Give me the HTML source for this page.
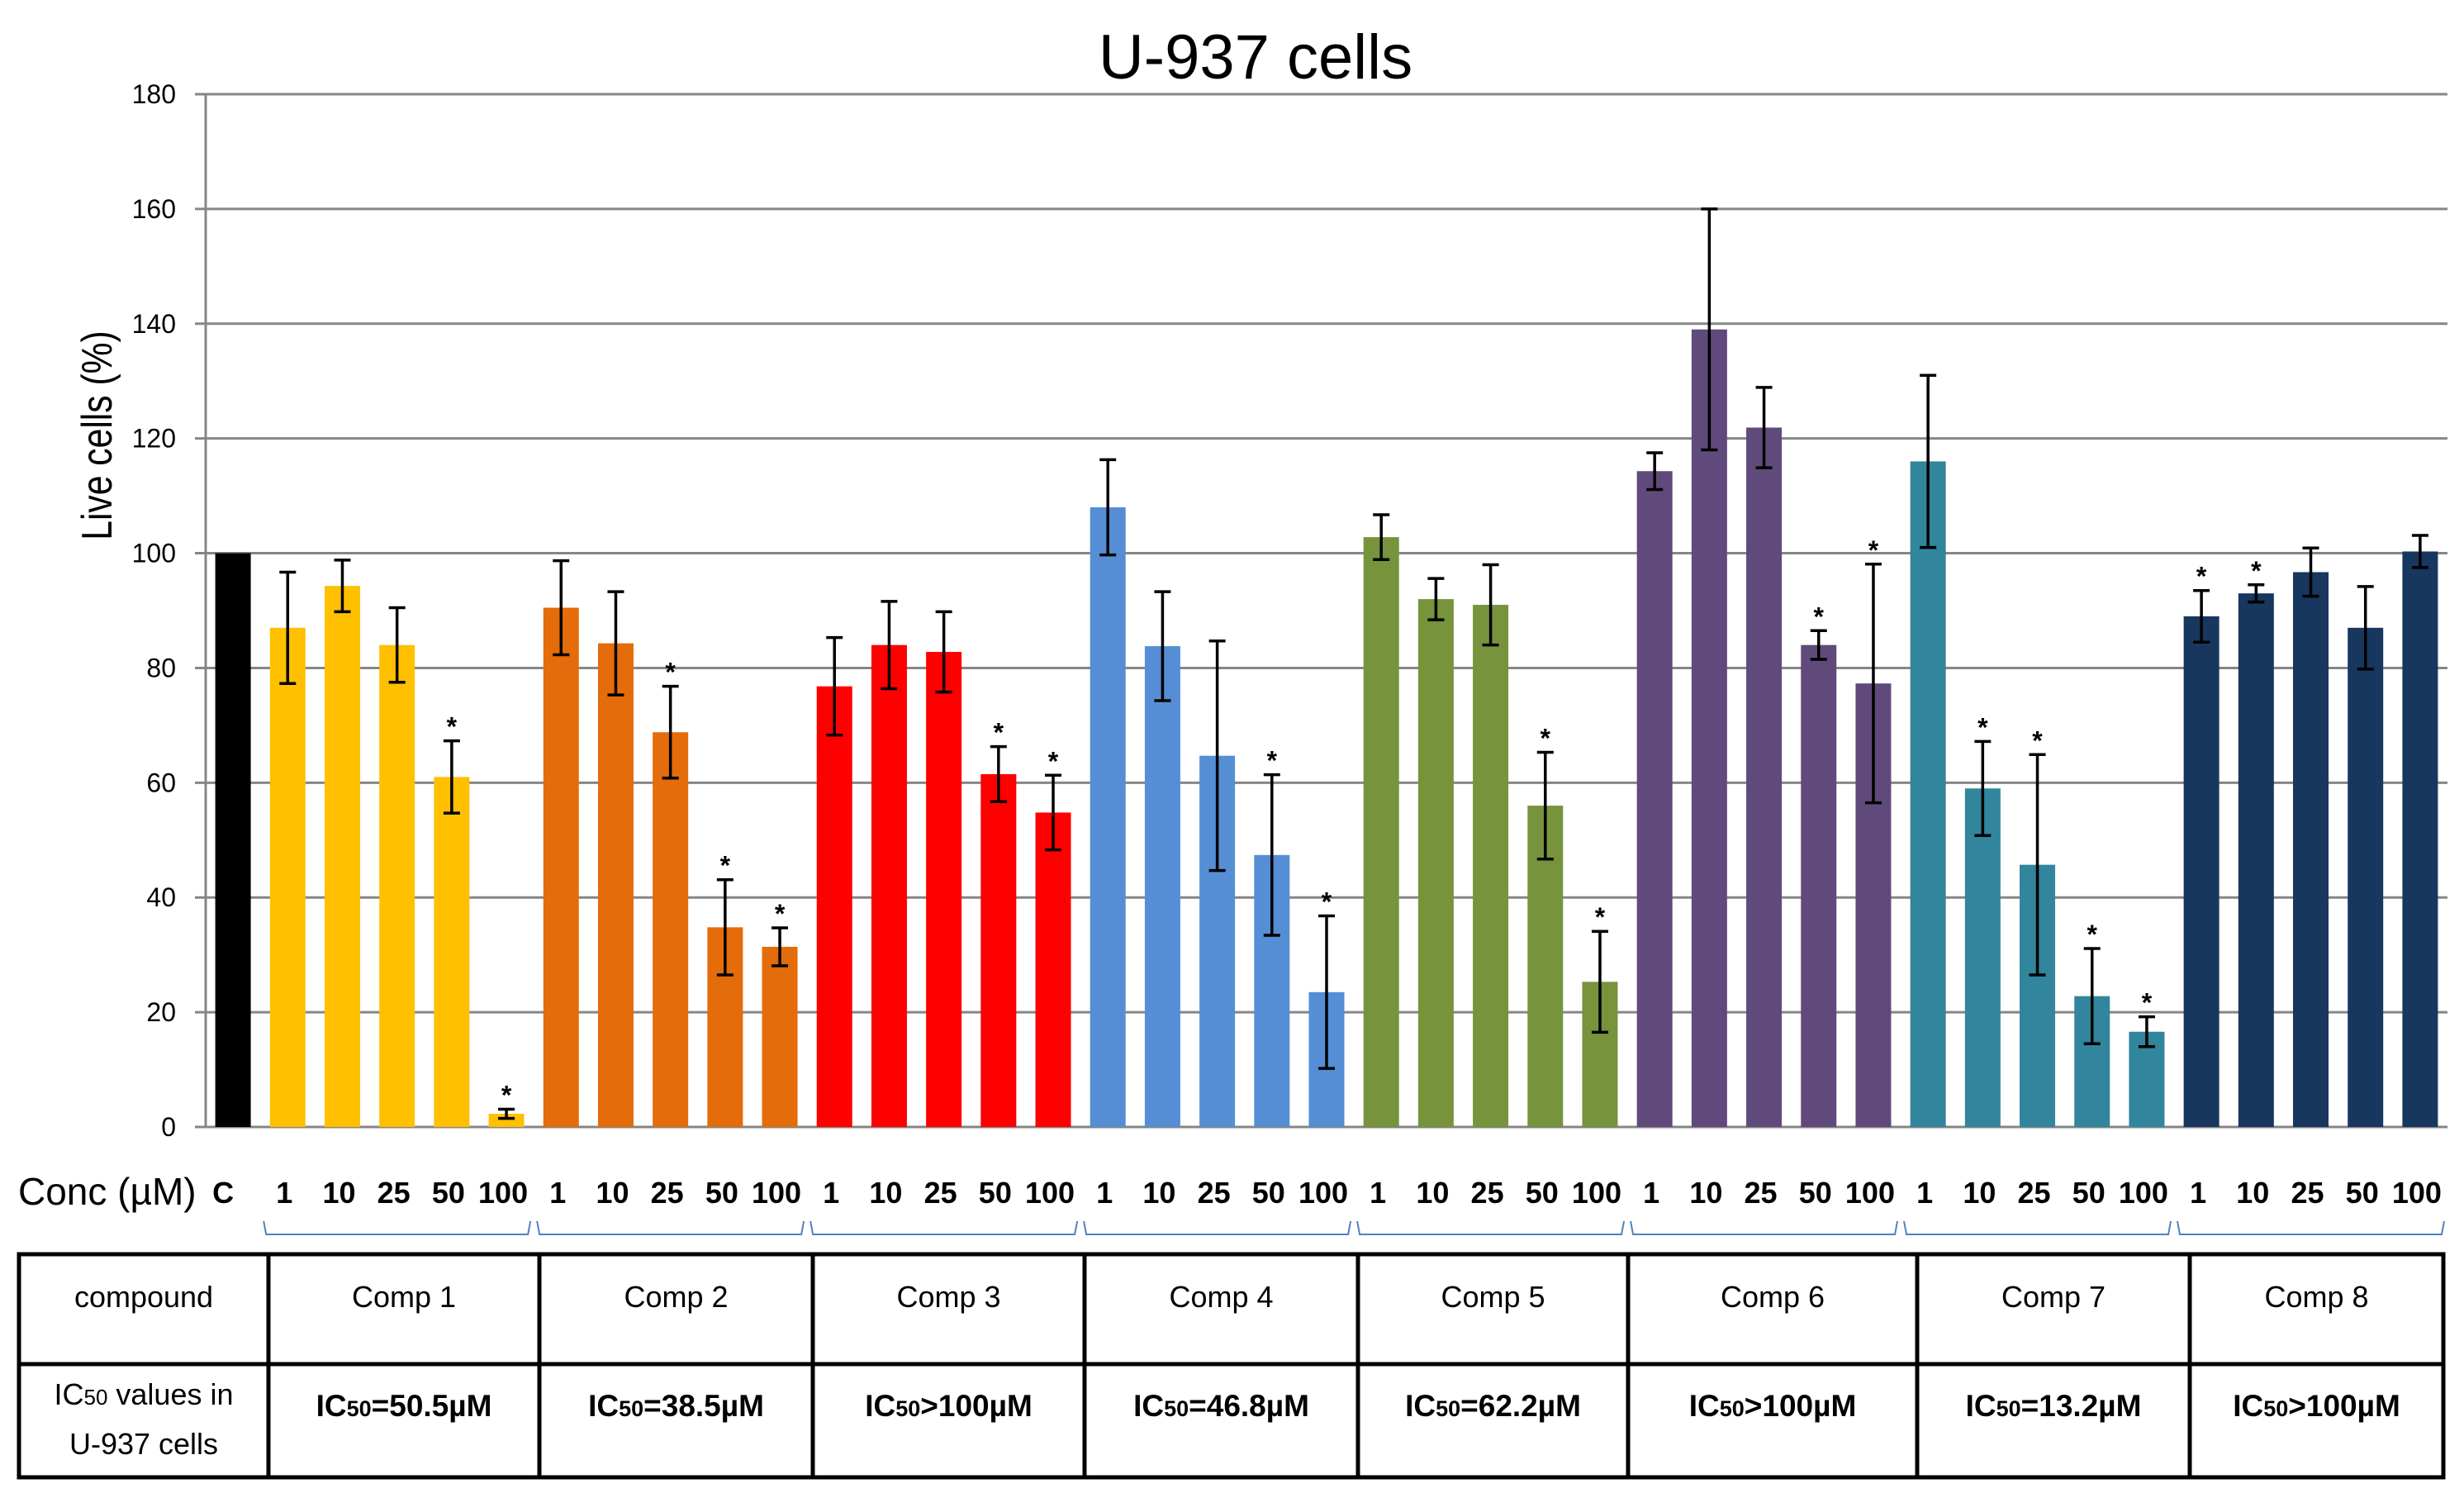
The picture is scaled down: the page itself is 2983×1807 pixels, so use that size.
<!DOCTYPE html>
<html><head><meta charset="utf-8"><style>
html,body{margin:0;padding:0;background:#fff}
svg{display:block}
text{font-family:"Liberation Sans",sans-serif}
</style></head><body>
<svg id="chart" width="2983" height="1807" viewBox="0 0 2983 1807" xmlns="http://www.w3.org/2000/svg">
<text x="1520" y="95" font-size="76" text-anchor="middle">U-937 cells</text>
<text transform="translate(135,527) rotate(-90) scale(0.82,1)" font-size="52" text-anchor="middle">Live cells (%)</text>
<text x="22" y="1458" font-size="46">Conc (µM)</text>
<g id="grid"></g><g id="bars"></g><g id="xlabels"></g><g id="braces"></g>
<g id="table"></g>
</svg>
<script>
const categories = ["C","1","10","25","50","100","1","10","25","50","100","1","10","25","50","100","1","10","25","50","100","1","10","25","50","100","1","10","25","50","100","1","10","25","50","100","1","10","25","50","100"];
const groupIndex = [0,1,1,1,1,1,2,2,2,2,2,3,3,3,3,3,4,4,4,4,4,5,5,5,5,5,6,6,6,6,6,7,7,7,7,7,8,8,8,8,8];
const values = [100, 87,94.3,84,61,2.3, 90.5,84.3,68.8,34.8,31.4, 76.8,84,82.8,61.5,54.8, 108,83.8,64.7,47.4,23.5, 102.8,92,91,56,25.3, 114.3,139,121.9,84,77.3, 116,59,45.7,22.8,16.6, 89,93,96.7,87,100.3];
const errors = [0, 9.7,4.5,6.5,6.3,0.8, 8.2,9,8,8.3,3.3, 8.5,7.6,7,4.8,6.5, 8.3,9.5,20,14,13.3, 3.9,3.6,7,9.3,8.8, 3.2,21,7,2.5,20.8, 15,8.2,19.2,8.3,2.6, 4.5,1.5,4.2,7.2,2.8];
const significant = [0, 0,0,0,1,1, 0,0,1,1,1, 0,0,0,1,1, 0,0,0,1,1, 0,0,0,1,1, 0,0,0,1,1, 0,1,1,1,1, 1,1,0,0,0];
const yTicks = [0,20,40,60,80,100,120,140,160,180];
const compounds = ["Comp 1","Comp 2","Comp 3","Comp 4","Comp 5","Comp 6","Comp 7","Comp 8"];
const ic50Labels = ["=50.5µM","=38.5µM",">100µM","=46.8µM","=62.2µM",">100µM","=13.2µM",">100µM"];
const colors = ["#000000","#FFC000","#E46C0A","#FF0000","#558ED5","#77933C","#604A7B","#31859C","#17375E"];

const NS="http://www.w3.org/2000/svg";
const X0=249, X1=2963, Y0=1364, Y180=114;
const band=(X1-X0)/categories.length, barW=43;
const y=v=>Y0-(v/180)*(Y0-Y180);
const xc=i=>X0+band*(i+0.5);
function mk(tag,attrs,parent,txt){const e=document.createElementNS(NS,tag);for(const k in attrs)e.setAttribute(k,attrs[k]);if(txt!==undefined)e.textContent=txt;parent.appendChild(e);return e;}
const grid=document.getElementById('grid'), bars=document.getElementById('bars'), xl=document.getElementById('xlabels'), br=document.getElementById('braces'), tb=document.getElementById('table');
yTicks.forEach(t=>{
  const l=mk('line',{x1:236,x2:X1,y1:y(t),y2:y(t),stroke:'#868686','stroke-width':3},grid);
  
  
  const tx=mk('text',{x:213,y:y(t)+11,'font-size':32,'text-anchor':'end'},grid,t);
  
  
});
const ax=mk('line',{x1:X0,x2:X0,y1:Y180,y2:Y0,stroke:'#868686','stroke-width':3},grid);


values.forEach((v,i)=>{
  const cx=xc(i);
  const r=mk('rect',{x:cx-barW/2,y:y(v),width:barW,height:Y0-y(v),fill:colors[groupIndex[i]]},bars);
  
  
  const e=errors[i];
  if(e>0){
    const g=mk('g',{stroke:'#000','stroke-width':3.5},bars);
    
    
    mk('line',{x1:cx,x2:cx,y1:y(v+e),y2:y(v-e)},g);
    mk('line',{x1:cx-10,x2:cx+10,y1:y(v+e),y2:y(v+e)},g);
    mk('line',{x1:cx-10,x2:cx+10,y1:y(v-e),y2:y(v-e)},g);
  }
  if(significant[i]){
    const s=mk('text',{x:cx,y:y(v+e)-6,'font-size':32,'font-weight':'bold','text-anchor':'middle'},bars,'*');
    
    
  }
  const t=mk('text',{x:cx-(i===0?12:4),y:1456,'font-size':36,'font-weight':'bold','text-anchor':'middle'},xl,categories[i]);
  
  
});
compounds.forEach((c,k)=>{
  const a=X0+band*(1+5*k)+4, b=X0+band*(6+5*k)-4;
  const p=mk('path',{d:`M${a} 1478 L${a+3} 1494 L${b-3} 1494 L${b} 1478`,fill:'none',stroke:'#4F81BD','stroke-width':2},br);
  
  
});
const cols=[23,325,653,984,1313,1644,1971,2321,2651,2958];
const ty0=1518, tym=1651, ty1=1788;
const box=mk('rect',{x:23,y:ty0,width:2935,height:ty1-ty0,fill:'none',stroke:'#000','stroke-width':5},tb);


mk('line',{x1:23,x2:2958,y1:tym,y2:tym,stroke:'#000','stroke-width':5},tb);
cols.slice(1,-1).forEach(cx=>mk('line',{x1:cx,x2:cx,y1:ty0,y2:ty1,stroke:'#000','stroke-width':5},tb));
const h=mk('text',{x:174,y:1582,'font-size':36,'text-anchor':'middle'},tb,'compound');


const r2=mk('text',{x:174,y:1700,'font-size':36,'text-anchor':'middle'},tb);


r2.innerHTML='IC<tspan font-size="26">50</tspan> values in';
mk('text',{x:174,y:1760,'font-size':36,'text-anchor':'middle'},tb,'U-937 cells');
compounds.forEach((c,k)=>{
  const cx=(cols[k+1]+cols[k+2])/2;
  const t=mk('text',{x:cx,y:1582,'font-size':36,'text-anchor':'middle'},tb,c);
  
  
  const v=mk('text',{x:cx,y:1714,'font-size':37,'font-weight':'bold','text-anchor':'middle'},tb);
  
  
  v.innerHTML='IC<tspan font-size="27">50</tspan>'+ic50Labels[k];
});
</script>
</body></html>
